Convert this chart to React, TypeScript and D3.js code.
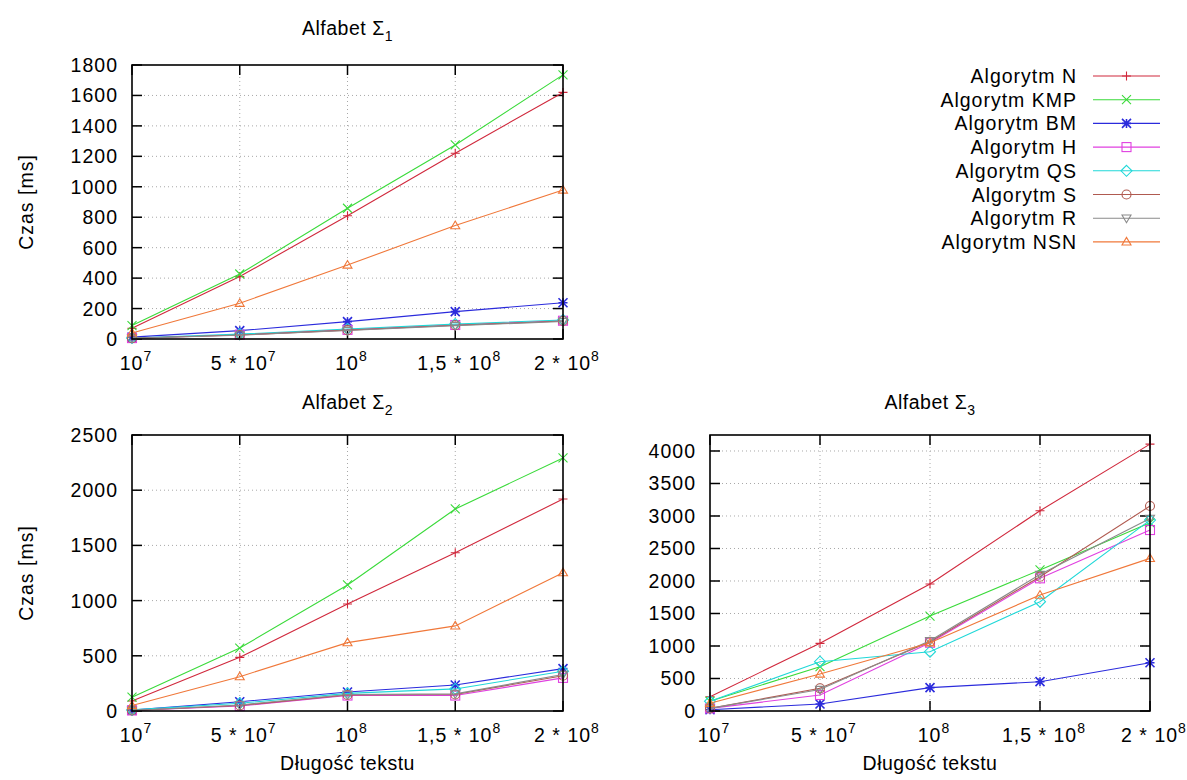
import React from 'react'
import * as d3 from 'd3'

// x positions (text length), shown as 10^7 ... 2*10^8
const xCategories = ['1e7', '5e7', '1e8', '1.5e8', '2e8']
const xTickBase = ['10', '5 * 10', '10', '1,5 * 10', '2 * 10']
const xTickExp = ['7', '7', '8', '8', '8']

const seriesNames = ['Algorytm N', 'Algorytm KMP', 'Algorytm BM', 'Algorytm H', 'Algorytm QS', 'Algorytm S', 'Algorytm R', 'Algorytm NSN']
const seriesColors = ['#d0283c', '#3ada3a', '#2b2bdc', '#e040e0', '#20d8d8', '#b05a50', '#8a8a8a', '#f0783a']
const seriesMarkers = ['plus', 'cross', 'star', 'square', 'diamond', 'circle', 'tridown', 'triup']

// times in ms, one row per algorithm (same order as seriesNames)
const sigma1Values = [
  [70, 410, 810, 1220, 1620],
  [88, 427, 859, 1275, 1735],
  [12, 55, 114, 180, 238],
  [6, 28, 60, 92, 120],
  [6, 32, 66, 98, 125],
  [5, 26, 58, 90, 118],
  [5, 25, 56, 88, 115],
  [40, 235, 486, 745, 979],
]
const sigma2Values = [
  [90, 486, 969, 1434, 1920],
  [125, 570, 1142, 1830, 2292],
  [8, 84, 172, 236, 384],
  [5, 45, 140, 140, 300],
  [10, 70, 160, 200, 360],
  [5, 50, 145, 150, 320],
  [5, 55, 150, 155, 330],
  [50, 311, 619, 771, 1253],
]
const sigma3Values = [
  [220, 1041, 1953, 3081, 4106],
  [150, 682, 1461, 2170, 2896],
  [20, 108, 359, 451, 743],
  [40, 246, 1050, 2041, 2784],
  [150, 758, 912, 1681, 2937],
  [40, 349, 1066, 2066, 3153],
  [40, 330, 1080, 2100, 2963],
  [120, 569, 1050, 1784, 2348],
]

const sigma1Ticks = [0, 200, 400, 600, 800, 1000, 1200, 1400, 1600, 1800]
const sigma2Ticks = [0, 500, 1000, 1500, 2000, 2500]
const sigma3Ticks = [0, 500, 1000, 1500, 2000, 2500, 3000, 3500, 4000]

const FONT = '"Liberation Sans", Arial, sans-serif'
const FS = 19.5

const Marker = ({ type, x, y, color }: { type: string; x: number; y: number; color: string }) => {
  const s = 4.5
  const common = { stroke: color, strokeWidth: 1.1, fill: 'none' }
  if (type === 'plus') return <path d={`M${x - s},${y}H${x + s}M${x},${y - s}V${y + s}`} {...common} />
  if (type === 'cross') return <path d={`M${x - s},${y - s}L${x + s},${y + s}M${x - s},${y + s}L${x + s},${y - s}`} {...common} />
  if (type === 'star')
    return <path d={`M${x - s},${y}H${x + s}M${x},${y - s}V${y + s}M${x - s},${y - s}L${x + s},${y + s}M${x - s},${y + s}L${x + s},${y - s}`} {...common} strokeWidth={1.6} />
  if (type === 'square') return <rect x={x - s} y={y - s} width={2 * s} height={2 * s} {...common} />
  if (type === 'diamond') return <path d={`M${x},${y - s - 1}L${x + s + 1},${y}L${x},${y + s + 1}L${x - s - 1},${y}Z`} {...common} />
  if (type === 'circle') return <circle cx={x} cy={y} r={s} {...common} />
  if (type === 'tridown') return <path d={`M${x - s},${y - s * 0.7}L${x + s},${y - s * 0.7}L${x},${y + s}Z`} {...common} />
  return <path d={`M${x - s},${y + s * 0.7}L${x + s},${y + s * 0.7}L${x},${y - s}Z`} {...common} />
}

const TickLabel = ({ i, x, y }: { i: number; x: number; y: number }) => (
  <text x={x} y={y} textAnchor="middle" fontFamily={FONT} fontSize={FS} letterSpacing={1}>
    {xTickBase[i]}
    <tspan fontSize={14} dy={-9}>{xTickExp[i]}</tspan>
  </text>
)

type PanelProps = {
  sub: string
  values: number[][]
  ticks: number[]
  yMax: number
  left: number
  right: number
  top: number
  bottom: number
  titleY: number
  yLabel: boolean
  xLabel: boolean
}

const Panel = ({ sub, values, ticks, yMax, left, right, top, bottom, titleY, yLabel, xLabel }: PanelProps) => {
  const x = d3.scalePoint<string>().domain(xCategories).range([left, right])
  const y = d3.scaleLinear().domain([0, yMax]).range([bottom, top])
  const line = d3
    .line<number>()
    .x((_, i) => x(xCategories[i]) as number)
    .y((d) => y(d))
  const cx = (left + right) / 2
  const cy = (top + bottom) / 2
  const tl = 10
  return (
    <g>
      <text x={cx} y={titleY} textAnchor="middle" fontFamily={FONT} fontSize={FS} letterSpacing={0.5}>
        Alfabet Σ<tspan fontSize={14} dy={6}>{sub}</tspan>
      </text>
      {/* grid */}
      {ticks
        .filter((t) => y(t) > top + 1 && y(t) < bottom - 1)
        .map((t) => (
          <line key={'gy' + t} x1={left} x2={right} y1={y(t)} y2={y(t)} stroke="#a8a8a8" strokeWidth={1} strokeDasharray="1,3" />
        ))}
      {xCategories.slice(1, -1).map((c) => (
        <line key={'gx' + c} x1={x(c)} x2={x(c)} y1={top} y2={bottom} stroke="#a8a8a8" strokeWidth={1} strokeDasharray="1,3" />
      ))}
      {/* ticks */}
      {ticks.map((t) => (
        <g key={'ty' + t}>
          <line x1={left} x2={left + tl} y1={y(t)} y2={y(t)} stroke="#000" strokeWidth={1.5} />
          <line x1={right} x2={right - tl} y1={y(t)} y2={y(t)} stroke="#000" strokeWidth={1.5} />
          <text x={left - 14} y={y(t) + 7} textAnchor="end" fontFamily={FONT} fontSize={FS} letterSpacing={1}>
            {t}
          </text>
        </g>
      ))}
      {xCategories.map((c, i) => (
        <g key={'tx' + c}>
          <line x1={x(c)} x2={x(c)} y1={bottom} y2={bottom - tl} stroke="#000" strokeWidth={1.5} />
          <line x1={x(c)} x2={x(c)} y1={top} y2={top + tl} stroke="#000" strokeWidth={1.5} />
          <TickLabel i={i} x={(x(c) as number) + 4} y={bottom + 31} />
        </g>
      ))}
      {/* series */}
      {values.map((vals, si) => (
        <g key={'s' + si}>
          <path d={line(vals) as string} fill="none" stroke={seriesColors[si]} strokeWidth={1.1} />
          {vals.map((v, i) => (
            <Marker key={i} type={seriesMarkers[si]} x={x(xCategories[i]) as number} y={y(v)} color={seriesColors[si]} />
          ))}
        </g>
      ))}
      <rect x={left} y={top} width={right - left} height={bottom - top} fill="none" stroke="#000" strokeWidth={1.6} />
      {yLabel && (
        <text transform={`translate(33,${cy}) rotate(-90)`} textAnchor="middle" fontFamily={FONT} fontSize={FS} letterSpacing={1}>
          Czas [ms]
        </text>
      )}
      {xLabel && (
        <text x={cx} y={bottom + 59} textAnchor="middle" fontFamily={FONT} fontSize={FS} letterSpacing={0.5}>
          Długość tekstu
        </text>
      )}
    </g>
  )
}

const Legend = () => {
  const textRight = 1077
  const lx1 = 1093
  const lx2 = 1160
  const y0 = 76
  const step = 23.7
  return (
    <g>
      {seriesNames.map((n, i) => {
        const yy = y0 + i * step
        return (
          <g key={n}>
            <text x={textRight} y={yy + 7} textAnchor="end" fontFamily={FONT} fontSize={FS} letterSpacing={1}>
              {n}
            </text>
            <line x1={lx1} x2={lx2} y1={yy} y2={yy} stroke={seriesColors[i]} strokeWidth={1.1} />
            <Marker type={seriesMarkers[i]} x={(lx1 + lx2) / 2} y={yy} color={seriesColors[i]} />
          </g>
        )
      })}
    </g>
  )
}

export default function App() {
  return (
    <svg width={1187} height={780} style={{ position: 'absolute', left: 0, top: 0, background: '#fff' }}>
      <rect width={1187} height={780} fill="#fff" />
      <Panel sub="1" values={sigma1Values} ticks={sigma1Ticks} yMax={1800} left={132} right={563} top={65} bottom={339} titleY={35} yLabel xLabel={false} />
      <Panel sub="2" values={sigma2Values} ticks={sigma2Ticks} yMax={2500} left={132} right={563} top={435} bottom={711} titleY={409} yLabel xLabel />
      <Panel sub="3" values={sigma3Values} ticks={sigma3Ticks} yMax={4246} left={710} right={1150} top={435} bottom={711} titleY={409} yLabel={false} xLabel />
      <Legend />
    </svg>
  )
}
